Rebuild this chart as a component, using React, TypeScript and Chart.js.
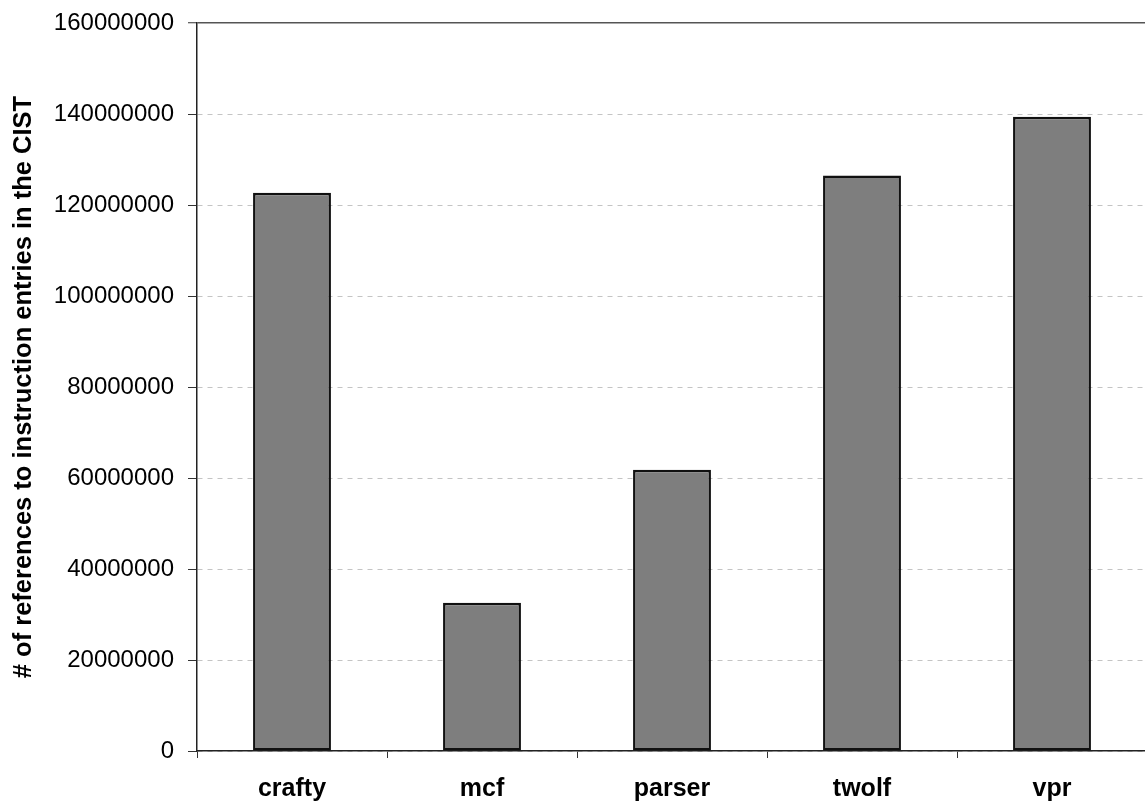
import React, { useEffect, useRef } from "react";
import { Chart, registerables } from "chart.js";

Chart.register(...registerables);

// Benchmarks and the number of references each makes to instruction entries in the CIST
const benchmarks = ["crafty", "mcf", "parser", "twolf", "vpr"];
const referenceCounts = [122700000, 32600000, 61800000, 126500000, 139400000];

// Value axis
const yMin = 0;
const yMax = 160000000;
const yStep = 20000000;
const yTitle = "# of references to instruction entries in the CIST";

const FONT = "'Liberation Sans', Arial, Helvetica, sans-serif";

export default function App() {
  const canvasRef = useRef<HTMLCanvasElement | null>(null);

  useEffect(() => {
    const canvas = canvasRef.current;
    if (!canvas) return;
    const chart = new Chart(canvas, {
      type: "bar",
      data: {
        labels: benchmarks,
        datasets: [
          {
            data: referenceCounts,
            backgroundColor: "#7e7e7e",
            borderColor: "#111111",
            borderWidth: 2.5,
            borderSkipped: false,
            categoryPercentage: 1,
            barPercentage: 0.41,
          },
        ],
      },
      options: {
        animation: false,
        responsive: false,
        devicePixelRatio: 1,
        layout: { padding: { top: 23, right: 3, bottom: 0, left: 0 } },
        plugins: {
          legend: { display: false },
          tooltip: { enabled: false },
          title: { display: false },
        },
        scales: {
          x: {
            grid: {
              offset: true,
              drawOnChartArea: false,
              drawTicks: true,
              tickLength: 7,
              tickColor: "#333333",
              tickWidth: 1,
            },
            border: { display: true, color: "#222222", width: 1.5 },
            ticks: {
              color: "#000000",
              padding: 16,
              font: { family: FONT, size: 25, weight: "bold" },
            },
            afterFit: (scale: any) => {
              scale.height = 55;
            },
          },
          y: {
            min: yMin,
            max: yMax,
            grid: {
              color: (ctx: any) =>
                ctx.tick && ctx.tick.value === yMax ? "#555555" : "#c4c4c4",
              lineWidth: (ctx: any) =>
                ctx.tick && ctx.tick.value === yMax ? 1.5 : 1,
              tickColor: "#333333",
              tickLength: 9,
              tickWidth: 1,
            },
            border: {
              display: true,
              color: "#222222",
              width: 1.5,
              dash: (ctx: any) =>
                ctx.tick && ctx.tick.value !== yMax ? [5, 5] : [],
            },
            ticks: {
              stepSize: yStep,
              color: "#000000",
              padding: 14,
              font: { family: FONT, size: 24 },
              callback: (value: any) => String(value),
            },
            title: {
              display: true,
              text: yTitle,
              color: "#000000",
              font: { family: FONT, size: 25.5, weight: "bold" },
              padding: { top: 9, bottom: 0 },
            },
            afterFit: (scale: any) => {
              scale.width = 197;
              // let the layout padding alone decide the plot's top edge
              scale.paddingTop = 0;
              scale.paddingBottom = 0;
            },
          },
        },
      },
    });
    return () => chart.destroy();
  }, []);

  return (
    <div
      style={{
        position: "fixed",
        left: 0,
        top: 0,
        width: 1145,
        height: 806,
        overflow: "hidden",
        background: "#ffffff",
      }}
    >
      <canvas ref={canvasRef} width={1150} height={806} style={{ display: "block" }} />
    </div>
  );
}
